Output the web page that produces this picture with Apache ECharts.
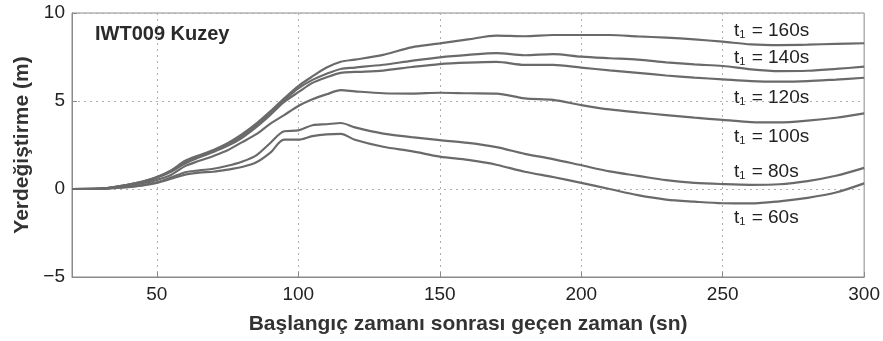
<!DOCTYPE html>
<html>
<head>
<meta charset="utf-8">
<script src="https://cdn.jsdelivr.net/npm/echarts@6/dist/echarts.min.js"></script>
<style>html,body{margin:0;padding:0;background:#fff;}#c{width:883px;height:341px;}</style>
</head>
<body>
<div id="c"></div>
<script>
const times = [20,30,40,45,50,55,60,65,70,75,80,85,90,95,100,105,110,115,120,130,140,150,160,170,180,190,200,210,220,230,240,250,260,270,280,290,300];
const t160 = [0,0.02,0.25,0.42,0.68,1.05,1.6,1.92,2.22,2.6,3.1,3.7,4.4,5.15,5.85,6.4,6.9,7.23,7.35,7.62,8.05,8.27,8.5,8.72,8.68,8.75,8.75,8.75,8.67,8.6,8.5,8.37,8.22,8.18,8.2,8.25,8.28];
const t140 = [0,0.02,0.25,0.42,0.67,1.03,1.55,1.88,2.18,2.55,3.02,3.62,4.32,5.05,5.72,6.2,6.55,6.82,6.9,7.06,7.28,7.48,7.62,7.72,7.6,7.66,7.52,7.43,7.35,7.2,7.08,6.99,6.8,6.7,6.72,6.82,6.95];
const t120 = [0,0.02,0.23,0.4,0.64,0.98,1.45,1.8,2.1,2.45,2.9,3.5,4.2,4.95,5.5,6.03,6.35,6.6,6.65,6.73,6.93,7.1,7.18,7.22,7.05,7.05,6.9,6.74,6.6,6.45,6.33,6.23,6.13,6.1,6.13,6.22,6.32];
const t100 = [0,0.02,0.2,0.33,0.52,0.8,1.3,1.6,1.88,2.2,2.65,3.1,3.7,4.2,4.72,5.1,5.38,5.62,5.55,5.44,5.42,5.47,5.44,5.42,5.15,5.06,4.77,4.52,4.35,4.2,4.05,3.93,3.8,3.78,3.88,4.05,4.3];
const t80 = [0,0.01,0.12,0.22,0.38,0.65,0.95,1.06,1.15,1.32,1.55,1.9,2.6,3.28,3.33,3.62,3.68,3.75,3.5,3.15,2.95,2.78,2.62,2.38,2.0,1.7,1.35,1.0,0.75,0.5,0.35,0.28,0.24,0.27,0.45,0.75,1.2];
const t60 = [0,0.01,0.1,0.2,0.35,0.58,0.82,0.93,0.98,1.1,1.25,1.5,2.05,2.8,2.8,3.0,3.1,3.13,2.8,2.4,2.15,1.84,1.65,1.38,0.98,0.68,0.35,0.0,-0.35,-0.6,-0.72,-0.81,-0.82,-0.7,-0.5,-0.2,0.32];
const seriesNames = ['t1 = 160s','t1 = 140s','t1 = 120s','t1 = 100s','t1 = 80s','t1 = 60s'];
const seriesLabels = ['160s','140s','120s','100s','80s','60s'];
const seriesData = [t160,t140,t120,t100,t80,t60];
const xTicks = [50,100,150,200,250,300];
const yTicks = [-5,0,5,10];

const labelPos = [[734,21],[734,48],[734,88],[734,127],[734,162],[734,208]];

const chart = echarts.init(document.getElementById('c'));
const font = '"Liberation Sans", Arial, Helvetica, sans-serif';
chart.setOption({
  animation: false,
  backgroundColor: '#fff',
  grid: {left: 72, right: 18, top: 13, bottom: 64, show: true, borderColor: '#8a8a8a', borderWidth: 1},
  xAxis: {
    type: 'value', min: 20, max: 300,
    name: 'Başlangıç zamanı sonrası geçen zaman (sn)',
    nameLocation: 'middle', nameGap: 37,
    nameTextStyle: {fontFamily: font, fontSize: 21, fontWeight: 'bold', color: '#333'},
    axisLine: {show: true, onZero: false, lineStyle: {color: '#8a8a8a'}},
    axisTick: {inside: true, length: 5, lineStyle: {color: '#8a8a8a'}},
    axisLabel: {fontFamily: font, fontSize: 19, color: '#222', margin: 8,
      formatter: v => xTicks.indexOf(v) >= 0 ? String(v) : ''},
    splitLine: {show: true, lineStyle: {type: [2,4], color: '#b0b0b0'}}
  },
  yAxis: {
    type: 'value', min: -5, max: 10, interval: 5,
    name: 'Yerdeğiştirme (m)',
    nameLocation: 'middle', nameGap: 39,
    nameTextStyle: {fontFamily: font, fontSize: 21, fontWeight: 'bold', color: '#333'},
    axisLine: {show: true, onZero: false, lineStyle: {color: '#8a8a8a'}},
    axisTick: {inside: true, length: 5, lineStyle: {color: '#8a8a8a'}},
    axisLabel: {fontFamily: font, fontSize: 19, color: '#222', margin: 7,
      formatter: v => yTicks.indexOf(v) >= 0 ? String(v).replace('-', '\u2212') : ''},
    splitLine: {show: true, lineStyle: {type: [2,4], color: '#b0b0b0'}}
  },
  series: seriesData.map((d, i) => ({
    name: seriesNames[i],
    type: 'line',
    data: times.map((t, j) => [t, d[j]]),
    showSymbol: false,
    smooth: 0.3,
    lineStyle: {color: '#6a6a6a', width: 2.2},
    z: 3
  })),
  graphic: [
    {type: 'text', left: 95, top: 24, style: {text: 'IWT009 Kuzey', font: 'bold 20px ' + font, fill: '#2a2a2a'}}
  ].concat(seriesLabels.map((s, i) => ({
    type: 'text', left: labelPos[i][0], top: labelPos[i][1],
    style: {
      text: '{a|t}{b|1}{a| = ' + s + '}',
      rich: {
        a: {fontFamily: font, fontSize: 19, fill: '#222', color: '#222', lineHeight: 22, verticalAlign: 'bottom'},
        b: {fontFamily: font, fontSize: 11, fill: '#222', color: '#222', lineHeight: 11, verticalAlign: 'bottom', padding: [0,1,0,0]}
      }
    }
  })))
});
</script>
</body>
</html>
